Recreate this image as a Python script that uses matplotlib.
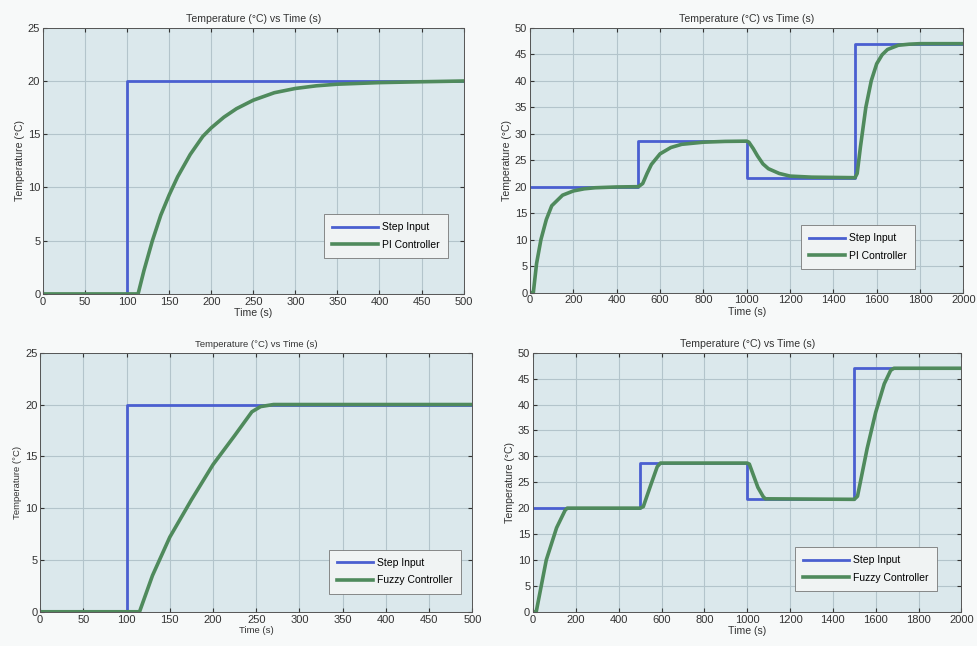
import matplotlib.pyplot as plt

plt.rcParams['font.family'] = ['Liberation Sans', 'DejaVu Sans']

# step input (setpoint) profiles
step1_t = [0, 100, 100, 500]
step1_y = [0, 0, 20, 20]
step2_t = [0, 500, 500, 1000, 1000, 1500, 1500, 2000]
step2_y = [20, 20, 28.7, 28.7, 21.7, 21.7, 47, 47]

# PI controller responses
pi1_t = [0, 113, 120, 130, 140, 150, 160, 175, 190, 200, 215, 230, 250, 275, 300, 325, 350, 400, 450, 500]
pi1_y = [0, 0, 2.2, 5.0, 7.4, 9.3, 11.0, 13.1, 14.8, 15.6, 16.6, 17.4, 18.2, 18.9, 19.3, 19.55, 19.7, 19.85, 19.93, 20]
pi2_t = [0, 15, 30, 50, 75, 100, 150, 200, 250, 300, 400, 500, 520, 540, 560, 600, 650, 700, 800, 900, 1000,
         1010, 1030, 1050, 1075, 1100, 1150, 1200, 1300, 1400, 1500, 1510, 1525, 1550, 1575, 1600, 1625, 1650,
         1700, 1750, 1800, 2000]
pi2_y = [0, 0, 5.5, 10.0, 13.8, 16.4, 18.4, 19.2, 19.6, 19.8, 19.95, 20, 20.6, 22.5, 24.2, 26.2, 27.4, 28.0, 28.4,
         28.55, 28.6, 28.4, 27.2, 25.8, 24.3, 23.4, 22.5, 22.0, 21.8, 21.75, 21.7, 22.5, 27.5, 35.0, 40.0, 43.2,
         44.9, 45.9, 46.7, 46.9, 47, 47]

# fuzzy controller responses
fz1_t = [0, 115, 130, 150, 175, 200, 225, 245, 255, 270, 500]
fz1_y = [0, 0, 3.5, 7.2, 10.8, 14.2, 17.0, 19.3, 19.8, 20, 20]
fz2_t = [0, 15, 62, 110, 150, 160, 500, 515, 550, 580, 595, 1000, 1010, 1050, 1075, 1085, 1500, 1515, 1560,
         1600, 1640, 1670, 1685, 2000]
fz2_y = [0, 0, 10, 16.2, 19.6, 20, 20, 20.3, 24.5, 28.0, 28.7, 28.7, 28.5, 24.0, 22.2, 21.8, 21.7, 22.3, 31.5,
         38.5, 44.0, 46.6, 47, 47]

blue = '#4a5fd0'
green = '#4f8a5c'
# rect, step, response, legend label, xmax, ymax, xstep, legend anchor, handle length, title/label size
panels = [
    ([0.044, 0.545, 0.430, 0.412], step1_t, step1_y, pi1_t, pi1_y, 'PI Controller', 500, 25, 50, (0.975, 0.115), 4.4, 7.6),
    ([0.542, 0.547, 0.443, 0.410], step2_t, step2_y, pi2_t, pi2_y, 'PI Controller', 2000, 50, 200, (0.90, 0.07), 3.4, 7.6),
    ([0.041, 0.053, 0.442, 0.401], step1_t, step1_y, fz1_t, fz1_y, 'Fuzzy Controller', 500, 25, 50, (0.985, 0.05), 3.4, 6.8),
    ([0.545, 0.053, 0.438, 0.401], step2_t, step2_y, fz2_t, fz2_y, 'Fuzzy Controller', 2000, 50, 200, (0.955, 0.06), 4.4, 7.6),
]

fig = plt.figure(figsize=(9.78, 6.46), dpi=100, facecolor='#f7f9f9')
for rect, st, sy, rt, ry, lab, xmax, ymax, xstep, anchor, hl, fs in panels:
    ax = fig.add_axes(rect)
    ax.set_facecolor('#dbe8ec')
    ax.plot(st, sy, color=blue, lw=2, label='Step Input')
    ax.plot(rt, ry, color=green, lw=2.6, label=lab)
    ax.set_xlim(0, xmax)
    ax.set_ylim(0, ymax)
    ax.set_xticks(range(0, xmax + 1, xstep))
    ax.set_yticks(range(0, ymax + 1, 5))
    ax.grid(True, color='#b3c4cb', lw=0.8)
    ax.tick_params(labelsize=8, length=3, direction='in', top=True, right=True, pad=2, colors='#333333')
    for s in ax.spines.values():
        s.set_color('#555555')
        s.set_linewidth(0.7)
    ax.set_title('Temperature (°C) vs Time (s)', fontsize=fs, color='#333333', pad=4)
    ax.set_xlabel('Time (s)', fontsize=fs, color='#333333', labelpad=1)
    ax.set_ylabel('Temperature (°C)', fontsize=fs, color='#333333', labelpad=2)
    leg = ax.legend(loc='lower right', bbox_to_anchor=anchor, fontsize=7.5, handlelength=hl,
                    fancybox=False, framealpha=1, facecolor='#f0f3f3', edgecolor='#777777',
                    borderpad=0.8, labelspacing=0.7, handletextpad=0.4)
    leg.get_frame().set_linewidth(0.6)

plt.savefig('out.png', dpi=100, facecolor=fig.get_facecolor())
